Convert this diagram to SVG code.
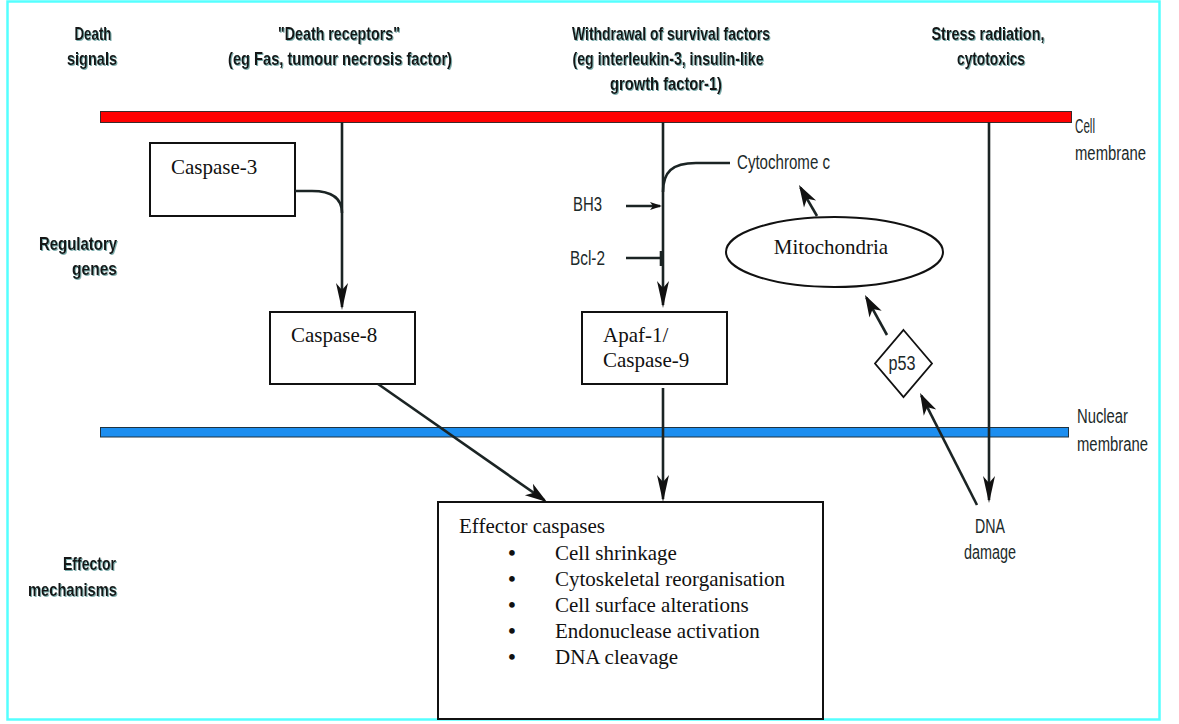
<svg xmlns="http://www.w3.org/2000/svg" width="1179" height="724" viewBox="0 0 1179 724">
<style>
.hdr{font-family:"Liberation Sans",Arial,sans-serif;font-weight:bold;font-size:19px;fill:#141414;filter:url(#sh)}
.lbl{font-family:"Liberation Sans",Arial,sans-serif;font-size:20px;fill:#1c2a2a}
.box{fill:#fff;stroke:#111;stroke-width:2}
.ser{font-family:"Liberation Serif","Times New Roman",serif;font-size:21px;fill:#111}
.bul{font-family:"Liberation Serif","Times New Roman",serif;font-size:21px;font-weight:bold;fill:#111}
.ln{fill:none;stroke:#1b2424;stroke-width:2.6}
.mid{text-anchor:middle}
.end{text-anchor:end}
</style>
<defs>
<filter id="sh" x="-5%" y="-20%" width="110%" height="140%">
<feDropShadow dx="1" dy="1" stdDeviation="0.3" flood-color="#5f9a9a" flood-opacity="0.8"/>
</filter>
<marker id="ah" markerUnits="userSpaceOnUse" markerWidth="30" markerHeight="14" refX="24" refY="7" orient="auto" overflow="visible">
<path d="M27,7 L0,1 L7,7 L0,13 Z" fill="#111"/>
</marker>
<marker id="ah2" markerUnits="userSpaceOnUse" markerWidth="24" markerHeight="16" refX="19" refY="7" orient="auto" overflow="visible">
<path d="M22,7 L0,0 L6,7 L0,14 Z" fill="#111"/>
</marker>
<marker id="ah3" markerUnits="userSpaceOnUse" markerWidth="14" markerHeight="10" refX="10" refY="4" orient="auto" overflow="visible">
<path d="M12,4 L0,0 L3,4 L0,8 Z" fill="#111"/>
</marker>
</defs>
<rect x="0" y="0" width="1179" height="724" fill="#fff"/>
<rect x="7.5" y="1.5" width="1152" height="718" fill="none" stroke="#55ffff" stroke-width="2.5"/>

<g id="membranes">
<rect x="100.5" y="111.5" width="971" height="11" fill="#ff0000" stroke="#3a2a2a" stroke-width="1"/>
<rect x="100.5" y="427.5" width="968" height="9.5" fill="#1c8ef0" stroke="#1f3340" stroke-width="1"/>
</g>

<g id="labels">
<text class="hdr mid" x="93" y="40" textLength="37" lengthAdjust="spacingAndGlyphs">Death</text>
<text class="hdr mid" x="92" y="65" textLength="50" lengthAdjust="spacingAndGlyphs">signals</text>
<text class="hdr mid" x="339" y="40" textLength="122" lengthAdjust="spacingAndGlyphs">"Death receptors"</text>
<text class="hdr mid" x="340" y="65" textLength="224" lengthAdjust="spacingAndGlyphs">(eg Fas, tumour necrosis factor)</text>
<text class="hdr mid" x="671" y="40" textLength="198" lengthAdjust="spacingAndGlyphs">Withdrawal of survival factors</text>
<text class="hdr mid" x="668" y="65" textLength="191" lengthAdjust="spacingAndGlyphs">(eg interleukin-3, insulin-like</text>
<text class="hdr mid" x="666" y="90" textLength="112" lengthAdjust="spacingAndGlyphs">growth factor-1)</text>
<text class="hdr mid" x="988" y="40" textLength="113" lengthAdjust="spacingAndGlyphs">Stress radiation,</text>
<text class="hdr mid" x="991" y="65" textLength="68" lengthAdjust="spacingAndGlyphs">cytotoxics</text>
<text class="hdr end" x="117" y="250" textLength="78" lengthAdjust="spacingAndGlyphs">Regulatory</text>
<text class="hdr end" x="117" y="275" textLength="45" lengthAdjust="spacingAndGlyphs">genes</text>
<text class="hdr end" x="116" y="570" textLength="53" lengthAdjust="spacingAndGlyphs">Effector</text>
<text class="hdr end" x="117" y="596" textLength="89" lengthAdjust="spacingAndGlyphs">mechanisms</text>
<text class="lbl" x="1075" y="133" textLength="20" lengthAdjust="spacingAndGlyphs">Cell</text>
<text class="lbl" x="1075" y="160" textLength="71" lengthAdjust="spacingAndGlyphs">membrane</text>
<text class="lbl" x="1077" y="423" textLength="51" lengthAdjust="spacingAndGlyphs">Nuclear</text>
<text class="lbl" x="1077" y="451" textLength="71" lengthAdjust="spacingAndGlyphs">membrane</text>
<text class="lbl mid" x="990" y="533" textLength="30" lengthAdjust="spacingAndGlyphs">DNA</text>
<text class="lbl mid" x="990" y="559" textLength="52" lengthAdjust="spacingAndGlyphs">damage</text>
<text class="lbl" x="573" y="211" textLength="29" lengthAdjust="spacingAndGlyphs">BH3</text>
<text class="lbl" x="570" y="265" textLength="35" lengthAdjust="spacingAndGlyphs">Bcl-2</text>
<text class="lbl" x="737" y="169" textLength="93" lengthAdjust="spacingAndGlyphs">Cytochrome c</text>
</g>

<g id="caspase3">
<rect class="box" x="150" y="143" width="145" height="73"/>
<text class="ser" x="171" y="174">Caspase-3</text>
</g>
<g id="caspase8">
<rect class="box" x="270" y="312" width="145" height="72"/>
<text class="ser" x="291" y="342">Caspase-8</text>
</g>
<g id="apaf1">
<rect class="box" x="582" y="312" width="145" height="72"/>
<text class="ser" x="603" y="342">Apaf-1/</text>
<text class="ser" x="603" y="367">Caspase-9</text>
</g>
<g id="mitochondria">
<ellipse cx="834.5" cy="252" rx="108.5" ry="35" fill="#fff" stroke="#111" stroke-width="2"/>
<text class="ser mid" x="831" y="254">Mitochondria</text>
</g>
<g id="p53">
<polygon points="903.5,330 932,363.5 903.5,397 875,363.5" fill="#fff" stroke="#111" stroke-width="1.8"/>
<text class="lbl mid" x="902" y="370" textLength="27" lengthAdjust="spacingAndGlyphs">p53</text>
</g>
<g id="effector">
<rect class="box" x="438" y="502" width="385" height="217"/>
<text class="ser" x="459" y="533">Effector caspases</text>
<text class="bul mid" x="512" y="560">•</text>
<text class="ser" x="555" y="560">Cell shrinkage</text>
<text class="bul mid" x="512" y="586">•</text>
<text class="ser" x="555" y="586">Cytoskeletal reorganisation</text>
<text class="bul mid" x="512" y="612">•</text>
<text class="ser" x="555" y="612">Cell surface alterations</text>
<text class="bul mid" x="512" y="638">•</text>
<text class="ser" x="555" y="638">Endonuclease activation</text>
<text class="bul mid" x="512" y="664">•</text>
<text class="ser" x="555" y="664">DNA cleavage</text>
</g>

<g id="connectors">
<line class="ln" x1="342" y1="122" x2="342" y2="307" marker-end="url(#ah)"/>
<path class="ln" d="M295,191 L312,191 C332,191 342,198 342,213"/>
<line class="ln" x1="663" y1="122" x2="663" y2="305" marker-end="url(#ah)"/>
<path class="ln" d="M663,192 C663,172 672,163 696,163 L730,163"/>
<line class="ln" x1="626" y1="206" x2="660" y2="206" marker-end="url(#ah3)"/>
<line class="ln" x1="626" y1="258" x2="660" y2="258"/>
<line class="ln" x1="661" y1="251" x2="661" y2="266" stroke-width="2"/>
<line class="ln" x1="989" y1="122" x2="989" y2="500" marker-end="url(#ah)"/>
<line class="ln" x1="663" y1="388" x2="663" y2="499" marker-end="url(#ah)"/>
<line class="ln" x1="378" y1="384" x2="544.5" y2="500.3" marker-end="url(#ah2)"/>
<line class="ln" x1="817" y1="216" x2="800.5" y2="187.6" marker-end="url(#ah2)"/>
<line class="ln" x1="887" y1="335" x2="866.4" y2="297.6" marker-end="url(#ah2)"/>
<line class="ln" x1="977" y1="505" x2="921.4" y2="395.7" marker-end="url(#ah2)"/>
</g>
</svg>
